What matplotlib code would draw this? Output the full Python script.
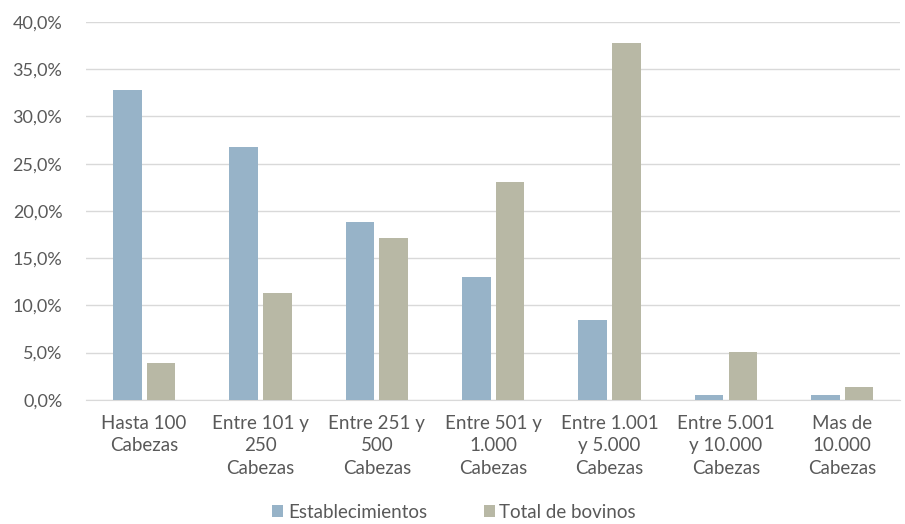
import matplotlib
matplotlib.use('Agg')
import matplotlib.pyplot as plt
import numpy as np
from matplotlib.ticker import FuncFormatter

plt.rcParams['font.family'] = ['Lato', 'DejaVu Sans']

categories = ['Hasta 100\nCabezas', 'Entre 101 y\n250\nCabezas', 'Entre 251 y\n500\nCabezas',
              'Entre 501 y\n1.000\nCabezas', 'Entre 1.001\ny 5.000\nCabezas',
              'Entre 5.001\ny 10.000\nCabezas', 'Mas de\n10.000\nCabezas']
establecimientos = [32.8, 26.8, 18.8, 13.0, 8.4, 0.5, 0.5]
bovinos = [3.9, 11.3, 17.1, 23.1, 37.8, 5.1, 1.4]

text_col = '#595959'
fig = plt.figure(figsize=(9.05, 5.24), dpi=100)
ax = fig.add_axes([0.095, 0.237, 0.9, 0.721])

x = np.arange(len(categories))
w = 0.245
ax.bar(x - 0.145, establecimientos, w, color='#97B3C8', label='Establecimientos', zorder=3)
ax.bar(x + 0.145, bovinos, w, color='#B8B8A5', label='Total de bovinos', zorder=3)

ax.set_ylim(0, 40)
ax.set_xlim(-0.5, len(categories) - 0.5)
ax.set_yticks(np.arange(0, 41, 5))
ax.yaxis.set_major_formatter(FuncFormatter(lambda v, p: f'{v:.1f}%'.replace('.', ',')))
ax.grid(axis='y', color='#D9D9D9', linewidth=1, zorder=0)
ax.set_xticks(x)
ax.set_xticklabels(categories, fontsize=13.5, color=text_col, linespacing=1.38)
ax.tick_params(axis='y', labelsize=13, labelcolor=text_col, length=0, pad=17)
ax.tick_params(axis='x', length=0, pad=11)
for s in ['top', 'right', 'left']:
    ax.spines[s].set_visible(False)
ax.spines['bottom'].set_color('#D9D9D9')

ax.legend(loc='center', bbox_to_anchor=(0.452, -0.298), ncol=2, frameon=False,
          fontsize=13.5, labelcolor=text_col, handlelength=0.6, handleheight=0.6,
          handletextpad=0.25, columnspacing=3)

fig.savefig('out.png', dpi=100)
